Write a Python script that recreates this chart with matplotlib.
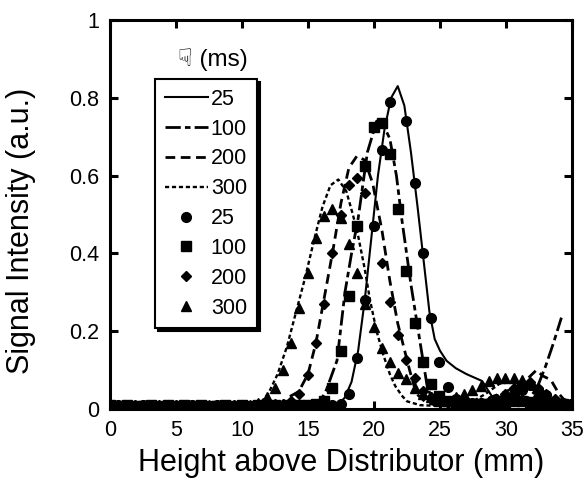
import numpy as np
import matplotlib
matplotlib.use('Agg')
import matplotlib.pyplot as plt

plt.rcParams['font.family'] = ['Liberation Sans', 'DejaVu Sans']
plt.rcParams['lines.scale_dashes'] = False

# sampling positions of the measured points (mm)
pos = [0.00, 0.62, 1.25, 1.87, 2.50, 3.12, 3.74, 4.37, 4.99, 5.62, 6.24, 6.86,
       7.49, 8.11, 8.74, 9.36, 9.98, 10.61, 11.23, 11.86, 12.48, 13.10, 13.73,
       14.35, 14.98, 15.60, 16.22, 16.85, 17.47, 18.10, 18.72, 19.34, 19.97,
       20.59, 21.22, 21.84, 22.46, 23.09, 23.71, 24.34, 24.96, 25.58, 26.21,
       26.83, 27.46, 28.08, 28.70, 29.33, 29.95, 30.58, 31.20, 31.82, 32.45,
       33.07, 33.70, 34.32, 34.94]

# measured points
pts_25 = [.008, .010, .007, .009, .010, .008, .007, .010, .009, .008, .010, .007,
          .009, .010, .008, .007, .010, .009, .008, .010, .009, .007, .010,
          .009, .010, .008, .010, .010, .012, .040, .130, .280, .470,
          .665, .790, np.nan, .740, .580, .400, .235, .120, .057, .025,
          .020, .015, .015, .015, .020, .030, .040, .050, .062, .050,
          .035, .020, .015, .012]
pts_100 = [.010, .008, .010, .007, .009, .010, .008, .010, .007, .010, .009, .010,
           .008, .007, .010, .009, .010, .008, .010, .009, .010, .008, .010,
           .010, .010, .012, .020, .055, .150, .290, .470, .625, .725,
           .735, .655, .515, .355, .220, .120, .064, .033, .020, .015,
           .012, .012, .012, .014, .016, .018, .020, .020, .018, .016,
           .015, .012, .012, .010]
pts_200 = [.009, .010, .008, .010, .007, .009, .010, .008, .010, .009, .007, .010,
           .009, .010, .008, .010, .009, .007, .010, .010, .012, .014, .020,
           .040, .088, .170, .270, .400, .500, .577, .595, .555, .470,
           .375, .275, .190, .125, .080, .046, .030, .020, .015, .013,
           .013, .013, .015, .018, .025, .040, .055, .067, .070, .055,
           .040, .025, .015, .012]
pts_300 = [.010, .009, .007, .010, .008, .010, .009, .007, .010, .008, .010, .009,
           .010, .007, .009, .010, .008, .010, .015, .030, .055, .100, .170,
           .260, .350, .440, .495, .515, .490, .425, .350, .270, .210,
           .158, .120, .093, .077, .054, .040, .030, .020, .020, .030,
           .040, .050, .060, .072, .080, .080, .080, .075, .065, .045,
           .030, .020, .015, .012]

# fitted curves
x_25 = [0, 1.5, 3, 4.5, 6, 7.5, 9, 10.5, 12, 13.5, 15, 16.5, 17.3, 17.8, 18.3, 18.8,
        19.3, 19.8, 20.3, 20.8, 21.3, 21.8, 22.3, 22.8, 23.3, 23.8, 24.2, 24.6, 25.0,
        25.5, 26.2, 27.0, 28.2, 28.8, 29.3, 30.5, 32, 33.5, 35]
y_25 = [.008, .010, .007, .010, .008, .011, .009, .010, .008, .010, .009, .010, .012,
        .030, .070, .150, .280, .440, .600, .720, .800, .830, .780, .660, .520, .370,
        .250, .180, .150, .124, .105, .090, .072, .040, .013, .010, .012, .010, .008]

x_100 = [0, 1.5, 3, 4.5, 6, 7.5, 9, 10.5, 12, 13.5, 15, 15.8, 16.4, 17.2, 17.8, 18.3,
         18.8, 19.5, 20.2, 20.7, 21.2, 21.7, 22.1, 22.8, 23.5, 24.0, 24.5, 25.5, 27,
         28.5, 30, 31.5, 32.3, 33.0, 33.6, 34.2]
y_100 = [.009, .011, .008, .010, .009, .010, .011, .009, .010, .009, .010, .012, .050,
         .125, .300, .400, .490, .660, .740, .730, .695, .600, .490, .320, .170, .065,
         .012, .010, .012, .010, .015, .020, .050, .110, .170, .235]

x_200 = [0, 1.5, 3, 4.5, 6, 7.5, 9, 10.5, 12, 13.0, 13.5, 14.3, 15.0, 15.6, 16.2,
         16.9, 17.5, 18.1, 18.7, 19.3, 19.9, 20.6, 21.2, 21.8, 22.7, 23.2, 24.0, 25,
         26.5, 28, 28.8, 30, 31.3, 32.3, 32.8, 33.4, 34.0, 34.5, 35]
y_200 = [.010, .008, .011, .009, .010, .008, .010, .011, .009, .012, .030, .045, .090,
         .170, .280, .410, .530, .620, .650, .640, .580, .460, .330, .220, .100, .040,
         .015, .010, .010, .012, .030, .045, .067, .100, .085, .075, .040, .020, .010]

x_300 = [0, 1.5, 3, 4.5, 6, 7.5, 9, 10.5, 11.3, 12, 12.7, 13.4, 14.1, 14.8, 15.5,
         16.1, 16.7, 17.3, 17.9, 18.4, 18.8, 19.3, 19.7, 20.2, 20.7, 21.2, 21.6, 22.1,
         22.5, 23.5, 25, 26.5, 27.5, 28.5, 29.5, 30.5, 31.5, 32.5, 33.5, 35]
y_300 = [.009, .010, .008, .011, .009, .010, .008, .010, .012, .040, .090, .160, .250,
         .340, .440, .520, .575, .590, .560, .500, .445, .360, .280, .200, .140, .090,
         .060, .035, .020, .010, .008, .010, .020, .040, .065, .070, .060, .040, .020,
         .010]

labels = ['25', '100', '200', '300']

fig = plt.figure(figsize=(5.87, 4.87), dpi=100)
ax = fig.add_axes([0.1874, 0.160, 0.787, 0.799])

l1, = ax.plot(x_25, y_25, color='black', lw=1.5, linestyle='-')
l2, = ax.plot(x_100, y_100, color='black', lw=2.0, dashes=(11, 3, 4, 3))
l3, = ax.plot(x_200, y_200, color='black', lw=2.0, dashes=(7, 4))
l4, = ax.plot(x_300, y_300, color='black', lw=1.7, dashes=(3, 2))

m1, = ax.plot(pos, pts_25, 'o', color='black', ms=7, linestyle='none')
m2, = ax.plot(pos, pts_100, 's', color='black', ms=6.5, linestyle='none')
m3, = ax.plot(pos, pts_200, 'D', color='black', ms=5, linestyle='none')
m4, = ax.plot(pos, pts_300, '^', color='black', ms=7, linestyle='none')

ax.set_xlim(0, 35)
ax.set_ylim(0, 1)
ax.set_xticks([0, 5, 10, 15, 20, 25, 30, 35])
ax.set_yticks([0, 0.2, 0.4, 0.6, 0.8, 1])
ax.set_yticklabels(['0', '0.2', '0.4', '0.6', '0.8', '1'])
ax.tick_params(direction='in', length=6, width=2.2, top=True, right=True,
               labelsize=15.5, pad=8)
for s in ax.spines.values():
    s.set_linewidth(2.2)

ax.set_xlabel('Height above Distributor (mm)', fontsize=22, labelpad=5)
ax.set_ylabel('Signal Intensity (a.u.)', fontsize=22)
ax.yaxis.set_label_coords(-0.16, 0.457)

leg = ax.legend([l1, l2, l3, l4, m1, m2, m3, m4], labels + labels,
                loc='upper left', bbox_to_anchor=(0.097, 0.848), borderaxespad=0,
                fontsize=15.5, handlelength=2.0, handletextpad=0.15,
                labelspacing=0.41, borderpad=0.45, fancybox=False, framealpha=1,
                shadow={'color': 'black', 'alpha': 1})
leg.get_frame().set_edgecolor('black')
leg.get_frame().set_linewidth(1.5)

ax.text(0.222, 0.897, '\u261f (ms)', transform=ax.transAxes, fontsize=17.5,
        ha='center', va='center')

fig.savefig('out.png', dpi=100)
